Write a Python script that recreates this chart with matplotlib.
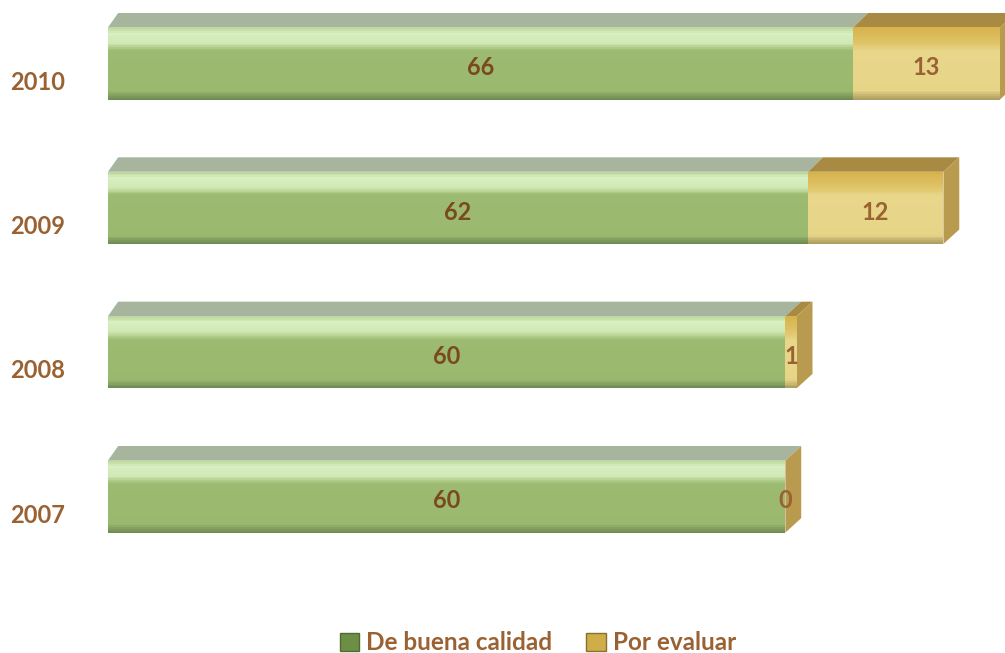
import matplotlib.pyplot as plt
import matplotlib.colors as mcolors
import numpy as np
from matplotlib.patches import Polygon, Patch

years = ['2007', '2008', '2009', '2010']
buena_calidad = [60, 60, 62, 66]
por_evaluar = [0, 1, 12, 13]
series_names = ['De buena calidad', 'Por evaluar']

# vertical shading stops (fraction from top of front face, colour)
GREEN_STOPS = [(0.0, '#b9d49a'), (0.08, '#d8efc0'), (0.22, '#cfe8b4'),
               (0.32, '#9dbb70'), (0.88, '#9bb96e'), (1.0, '#6c884f')]
GOLD_STOPS = [(0.0, '#d6b24c'), (0.2, '#dfc264'), (0.34, '#e8d78b'),
              (0.88, '#e6d487'), (1.0, '#a89a5c')]
GREEN_TOP = '#a8b59e'
GOLD_TOP = '#a98a42'
GOLD_SIDE = '#b99b50'
BROWN = '#9a6132'
VALUE_BROWN = '#7a4a1c'

plt.rcParams['font.family'] = ['Lato', 'DejaVu Sans']
plt.rcParams['font.weight'] = 'bold'

fig = plt.figure(figsize=(10.05, 6.53), dpi=100)
ax = fig.add_axes([108 / 1005, 53 / 653, 897 / 1005, 600 / 653])
ax.set_xlim(0, 897 / 11.29)
ax.set_ylim(-0.717, 3.44)

h = 0.5      # front face height
dy = 0.1     # depth (vertical)
dxl = 0.9    # depth at left end
dxr = 1.4    # depth at right end
n_bands = 40


def shaded_bar(y, width, left, stops):
    fr = [s[0] for s in stops]
    rgb = np.array([mcolors.to_rgb(s[1]) for s in stops])
    bh = h / n_bands
    for k in range(n_bands):
        f = (k + 0.5) / n_bands
        col = [np.interp(f, fr, rgb[:, c]) for c in range(3)]
        ax.barh(y + h / 2 - (k + 0.5) * bh, width, left=left, height=bh * 1.05,
                color=col, linewidth=0)


for i, year in enumerate(years):
    g = buena_calidad[i]
    p = por_evaluar[i]
    total = g + p
    top = i + h / 2
    bot = i - h / 2
    dxm = dxl + (dxr - dxl) * g / total

    # top faces
    ax.add_patch(Polygon([(0, top), (g, top), (g + dxm, top + dy), (dxl, top + dy)],
                         closed=True, facecolor=GREEN_TOP, edgecolor='none'))
    if p > 0:
        ax.add_patch(Polygon([(g, top), (total, top), (total + dxr, top + dy), (g + dxm, top + dy)],
                             closed=True, facecolor=GOLD_TOP, edgecolor='none'))
    # right end face
    ax.add_patch(Polygon([(total, bot), (total, top), (total + dxr, top + dy), (total + dxr, bot + dy)],
                         closed=True, facecolor=GOLD_SIDE, edgecolor='none'))

    # front faces
    shaded_bar(i, g, 0, GREEN_STOPS)
    if p > 0:
        shaded_bar(i, p, g, GOLD_STOPS)

    # value labels
    ax.text(g / 2, i - 0.03, str(g), ha='center', va='center', fontsize=17,
            color=VALUE_BROWN, fontweight='bold')
    ax.text(g + p / 2, i - 0.03, str(p), ha='center', va='center', fontsize=17,
            color=BROWN, fontweight='bold')

    # category labels
    ax.text(-3.8, i - 0.13, year, ha='right', va='center', fontsize=17,
            color=BROWN, fontweight='bold', clip_on=False)

ax.set_xticks([])
ax.set_yticks([])
for s in ax.spines.values():
    s.set_visible(False)

handles = [Patch(facecolor='#6c8e45', edgecolor='#4f6b30'),
           Patch(facecolor='#cdae48', edgecolor='#8a7030')]
fig.legend(handles, series_names, loc='center', bbox_to_anchor=(538 / 1005, 10 / 653),
           ncol=2, frameon=False, labelcolor=BROWN,
           handlelength=0.8, handleheight=0.8, handletextpad=0.3, columnspacing=1.4,
           prop={'weight': 'bold', 'size': 17.5})

fig.savefig('out.png', dpi=100)
